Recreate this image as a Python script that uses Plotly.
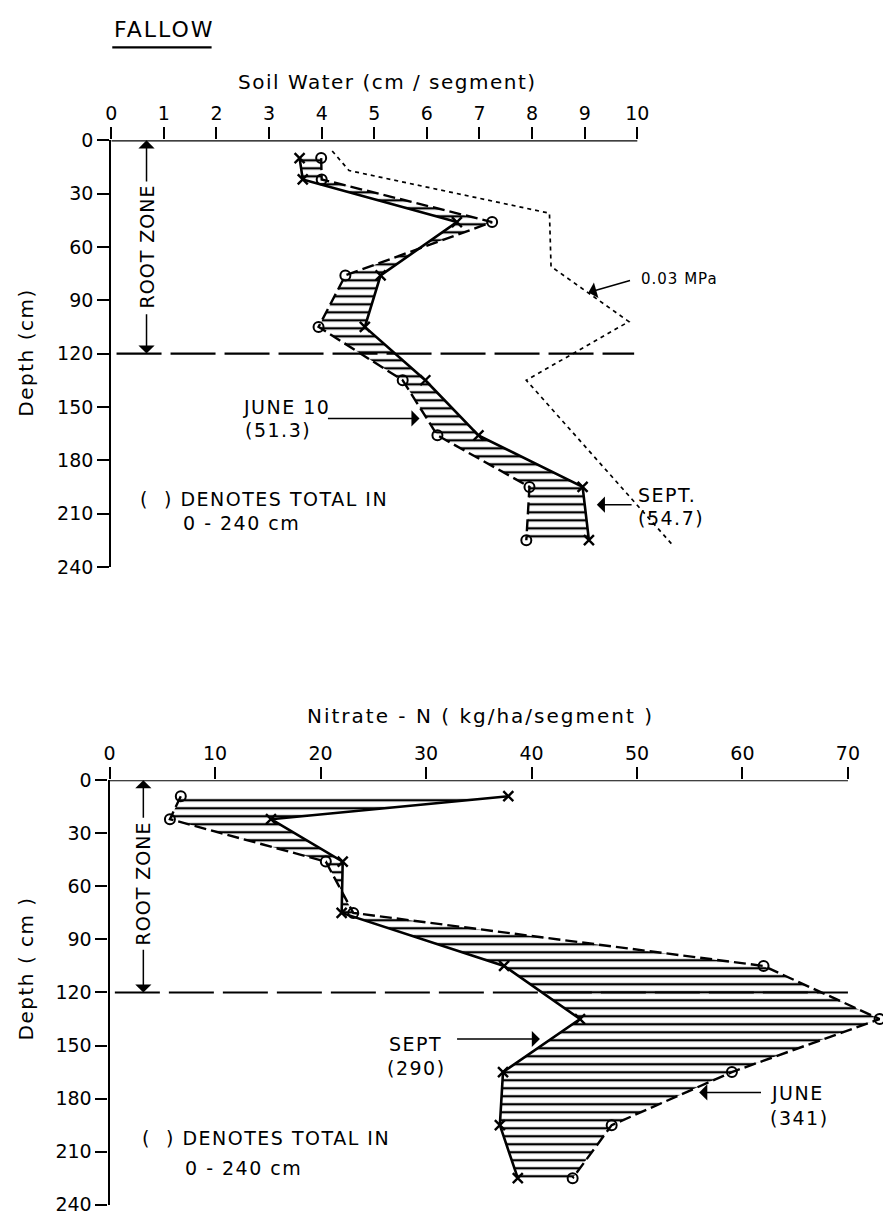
import plotly.graph_objects as go

# ---------------- data ----------------
# Soil water (cm/segment) profile, fallow
sw_depth = [10, 22, 46, 76, 105, 135, 166, 195, 225]
sw_june = [3.99, 4.00, 7.24, 4.45, 3.94, 5.54, 6.20, 7.95, 7.89]
sw_sept = [3.58, 3.64, 6.57, 5.12, 4.82, 5.97, 6.98, 8.96, 9.08]
mpa_depth = [6, 17, 41, 71, 102, 135, 228]
mpa_water = [4.20, 4.52, 8.33, 8.36, 9.84, 7.89, 10.68]
sw_ticks = list(range(0, 11))

# Nitrate-N (kg/ha/segment) profile
n_depth = [9, 22, 46, 75, 105, 135, 165, 195, 225]
n_june = [6.75, 5.72, 20.5, 23.1, 62.0, 73.0, 59.0, 47.6, 43.9]
n_sept = [37.8, 15.3, 22.1, 22.0, 37.4, 44.6, 37.3, 37.0, 38.7]
n_ticks = list(range(0, 80, 10))

depth_ticks = list(range(0, 270, 30))
root_zone = 120

# ---------------- layout helpers ----------------
W, H = 883, 1228
FONT = "DejaVu Sans"


def px(x):
    return x / W


def py(y):
    return 1 - y / H


def spaced(s, sp=1.5):
    return '<span style="letter-spacing:%.1fpx">%s</span>' % (sp, s)


fig = go.Figure()

june_line = dict(color="black", width=2.4, dash="12px,5px")
sept_line = dict(color="black", width=2.6)
o_marker = dict(symbol="circle-open", size=10, color="black", line=dict(width=2, color="black"))
x_marker = dict(symbol="x-thin-open", size=10, color="black", line=dict(width=2.4, color="black"))
hatch = dict(shape="-", size=8, solidity=0.29, fgcolor="black", fgopacity=1,
             bgcolor="rgba(0,0,0,0)")

# top panel
fig.add_trace(go.Scatter(x=sw_june, y=sw_depth, mode="lines+markers", line=june_line,
                         marker=o_marker, xaxis="x", yaxis="y", cliponaxis=False,
                         showlegend=False, name="June 10"))
fig.add_trace(go.Scatter(x=sw_sept, y=sw_depth, mode="lines+markers", line=sept_line,
                         marker=x_marker, fill="tonextx", fillcolor="rgba(0,0,0,0)",
                         fillpattern=hatch, xaxis="x", yaxis="y", cliponaxis=False,
                         showlegend=False, name="Sept."))
fig.add_trace(go.Scatter(x=mpa_water, y=mpa_depth, mode="lines",
                         line=dict(color="black", width=1.7, dash="4px,4px"),
                         xaxis="x", yaxis="y", showlegend=False, name="0.03 MPa"))

# bottom panel
fig.add_trace(go.Scatter(x=n_june, y=n_depth, mode="lines+markers", line=june_line,
                         marker=o_marker, xaxis="x2", yaxis="y2", cliponaxis=False,
                         showlegend=False, name="June"))
fig.add_trace(go.Scatter(x=n_sept, y=n_depth, mode="lines+markers", line=sept_line,
                         marker=x_marker, fill="tonextx", fillcolor="rgba(0,0,0,0)",
                         fillpattern=hatch, xaxis="x2", yaxis="y2", cliponaxis=False,
                         showlegend=False, name="Sept"))

axis_common = dict(showgrid=False, zeroline=False, ticks="outside", ticklen=12, tickwidth=1.8,
                   tickcolor="black", tickfont=dict(family=FONT, size=19, color="black"))

fig.update_layout(
    width=W, height=H, margin=dict(l=0, r=0, t=0, b=0),
    paper_bgcolor="white", plot_bgcolor="white",
    font=dict(family=FONT, color="black"),
    xaxis=dict(domain=[px(106), px(678)], range=[0, 10.8], side="top", anchor="y",
               tickvals=sw_ticks, showline=False, **axis_common),
    yaxis=dict(domain=[py(566), py(131.7)], range=[240, 0], anchor="x",
               tickvals=depth_ticks, showline=True, linewidth=2.2, linecolor="black", **axis_common),
    xaxis2=dict(domain=[px(104.3), 1.0], range=[0, (W - 104.3) / 10.62], side="top", anchor="y2",
                tickvals=n_ticks, showline=False, **axis_common),
    yaxis2=dict(domain=[py(1215.5), py(783.3)], range=[240, 0], anchor="x2",
                tickvals=depth_ticks, showline=True, linewidth=2.2, linecolor="black", **axis_common),
)

shapes = [
    # x-axis lines (only up to last tick)
    dict(type="line", xref="x", yref="y", x0=0, x1=sw_ticks[-1], y0=0, y1=0,
         line=dict(color="black", width=2.2)),
    dict(type="line", xref="x2", yref="y2", x0=0, x1=n_ticks[-1], y0=0, y1=0,
         line=dict(color="black", width=2.2)),
    # root zone boundary
    dict(type="line", xref="x", yref="y", x0=0.1, x1=9.94, y0=root_zone, y1=root_zone,
         line=dict(color="black", width=2.2, dash="45px,9px")),
    dict(type="line", xref="x2", yref="y2", x0=0.5, x1=70, y0=root_zone, y1=root_zone,
         line=dict(color="black", width=2.2, dash="45px,9px")),
    # FALLOW underline
    dict(type="line", xref="paper", yref="paper", x0=px(107), x1=px(207), y0=py(37), y1=py(37),
         line=dict(color="black", width=2.2)),
]
fig.update_layout(shapes=shapes)

ann = []


def text(x, y, s, size=19, xanchor="left", angle=0, sp=1.5):
    ann.append(dict(x=px(x), y=py(y), xref="paper", yref="paper", text=spaced(s, sp),
                    showarrow=False, xanchor=xanchor, yanchor="middle", textangle=angle,
                    font=dict(family=FONT, size=size, color="black")))


def arrow(xr, yr, x, y, ax, ay, width=1.5):
    ann.append(dict(x=x, y=y, ax=ax, ay=ay, xref=xr, yref=yr, axref=xr, ayref=yr, text="",
                    showarrow=True, arrowhead=1, arrowsize=1.8, arrowwidth=width,
                    arrowcolor="black"))


# titles
text(107, 19, "FALLOW", size=22, sp=2)
text(384, 72, "Soil Water (cm / segment)", size=20, xanchor="center", sp=1.5)
text(478, 718, "Nitrate - N ( kg/ha/segment )", size=20, xanchor="center", sp=2)
text(20, 348, "Depth (cm)", size=20, xanchor="center", angle=-90, sp=1.5)
text(20, 975, "Depth ( cm )", size=20, xanchor="center", angle=-90, sp=1.5)

# root zone markers
text(141.7, 240, "ROOT ZONE", size=19, xanchor="center", angle=-90, sp=1)
arrow("x", "y", 0.67, 0, 0.67, 24)
arrow("x", "y", 0.67, root_zone, 0.67, 97)
text(138.3, 888, "ROOT ZONE", size=19, xanchor="center", angle=-90, sp=1)
arrow("x2", "y2", 3.2, 0, 3.2, 22)
arrow("x2", "y2", 3.2, root_zone, 3.2, 95)

# top panel labels
text(133, 497, "(  ) DENOTES TOTAL IN")
text(176, 521, "0 - 240 cm")
text(237, 403, "JUNE 10")
text(239, 427, "(51.3)")
arrow("x", "y", 5.86, 156.5, 4.09, 156.5)
text(634, 493, "SEPT.")
text(634, 516, "(54.7)")
arrow("x", "y", 9.23, 205, 9.92, 205)
text(637, 273, "0.03 MPa", size=15, sp=1)
arrow("x", "y", 9.07, 85.6, 9.89, 78.6)

# bottom panel labels
text(135, 1148, "(  ) DENOTES TOTAL IN")
text(178, 1178, "0 - 240 cm")
text(384, 1052, "SEPT")
text(382, 1076, "(290)")
arrow("x2", "y2", 40.8, 146.3, 32.8, 146.3)
text(768, 1102, "JUNE")
text(767, 1127, "(341)")
arrow("x2", "y2", 55.9, 176.5, 61.9, 176.5)

fig.update_layout(annotations=ann)

fig.write_html("out.html")
